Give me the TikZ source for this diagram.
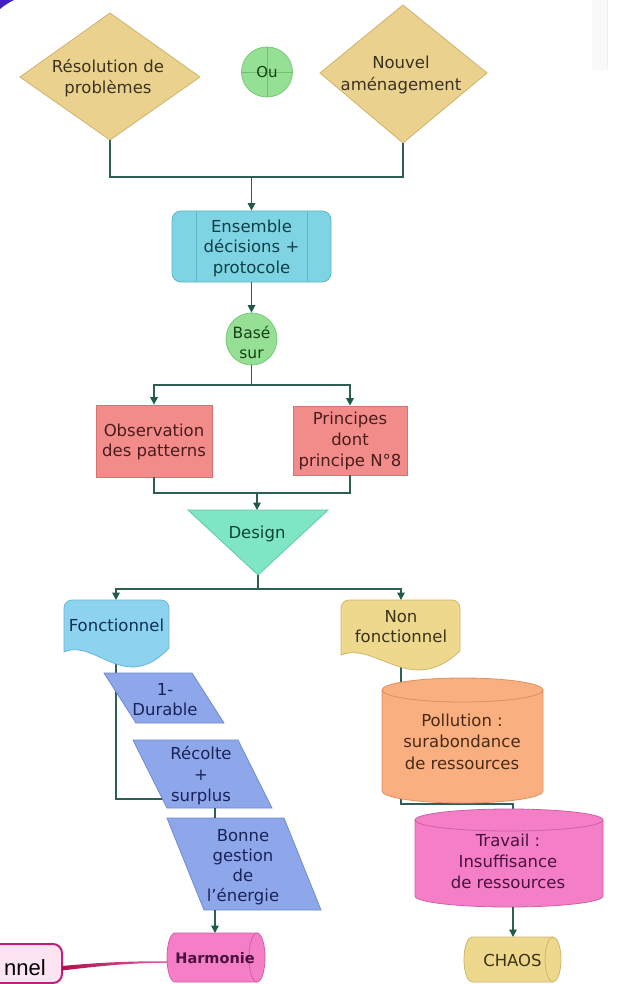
\documentclass[tikz,border=0pt]{standalone}
\usepackage{fontspec}
\setmainfont{DejaVu Sans}
\newfontfamily\nnelfont{Liberation Sans}
\usetikzlibrary{arrows.meta,shapes.geometric}

\definecolor{connC}{HTML}{2F5E54}
\definecolor{arrC}{HTML}{1F5A45}
\definecolor{diamF}{HTML}{EBD18E}
\definecolor{diamD}{HTML}{CFB36C}
\definecolor{diamT}{HTML}{3B3320}
\definecolor{greenF}{HTML}{95E095}
\definecolor{greenD}{HTML}{78C878}
\definecolor{greenX}{HTML}{6FC06F}
\definecolor{greenT}{HTML}{153F15}
\definecolor{cyanF}{HTML}{7FD4E3}
\definecolor{cyanD}{HTML}{5CB8C8}
\definecolor{cyanT}{HTML}{0E3E48}
\definecolor{redF}{HTML}{F28C8A}
\definecolor{redD}{HTML}{D87272}
\definecolor{redT}{HTML}{4A1C1C}
\definecolor{mintF}{HTML}{7EE5C5}
\definecolor{mintD}{HTML}{5ECAA7}
\definecolor{mintT}{HTML}{0F4536}
\definecolor{blueF}{HTML}{8DD2EE}
\definecolor{blueD}{HTML}{69B6D6}
\definecolor{blueT}{HTML}{0F2F55}
\definecolor{yelF}{HTML}{EDD88E}
\definecolor{yelD}{HTML}{CDB86C}
\definecolor{yelT}{HTML}{3B3315}
\definecolor{paraF}{HTML}{8EA7EA}
\definecolor{paraD}{HTML}{6F8AD2}
\definecolor{paraT}{HTML}{1A2358}
\definecolor{orF}{HTML}{F9AF7F}
\definecolor{orD}{HTML}{DE905E}
\definecolor{orT}{HTML}{4A2A15}
\definecolor{pinkF}{HTML}{F47FC6}
\definecolor{pinkD}{HTML}{D25EA6}
\definecolor{pinkT}{HTML}{4A1040}
\definecolor{magD}{HTML}{C21F78}
\definecolor{magF}{HTML}{FCE4F2}
\definecolor{magL}{HTML}{B0104E}
\definecolor{purC}{HTML}{4321C4}

% vertical cylinder: x0 x1 ytop ybot ry style
\newcommand{\vcylinder}[6]{%
  \pgfmathsetmacro\cylcx{(#1+#2)/2}%
  \pgfmathsetmacro\cylrx{(#2-#1)/2}%
  \pgfmathsetmacro\cylyu{#3+#5}%
  \pgfmathsetmacro\cylyl{#4-#5}%
  \pgfmathsetmacro\cylkx{0.5523*\cylrx}%
  \pgfmathsetmacro\cylky{0.5523*#5}%
  \draw[#6] (#1,\cylyu) -- (#1,\cylyl) .. controls (#1,\cylyl+\cylky) and (\cylcx-\cylkx,#4) .. (\cylcx,#4) .. controls (\cylcx+\cylkx,#4) and (#2,\cylyl+\cylky) .. (#2,\cylyl) -- (#2,\cylyu) .. controls (#2,\cylyu-\cylky) and (\cylcx+\cylkx,#3) .. (\cylcx,#3) .. controls (\cylcx-\cylkx,#3) and (#1,\cylyu-\cylky) .. (#1,\cylyu) -- cycle;
  \draw[#6, fill=none] (#1,\cylyu) .. controls (#1,\cylyu+\cylky) and (\cylcx-\cylkx,\cylyu+#5) .. (\cylcx,\cylyu+#5) .. controls (\cylcx+\cylkx,\cylyu+#5) and (#2,\cylyu+\cylky) .. (#2,\cylyu);
}
% horizontal cylinder: x0 x1 ytop ybot rx style
\newcommand{\hcylinder}[6]{%
  \pgfmathsetmacro\cylcy{(#3+#4)/2}%
  \pgfmathsetmacro\cylry{(#4-#3)/2}%
  \pgfmathsetmacro\cylxl{#1+#5}%
  \pgfmathsetmacro\cylxr{#2-#5}%
  \pgfmathsetmacro\cylkx{0.5523*#5}%
  \pgfmathsetmacro\cylky{0.5523*\cylry}%
  \draw[#6] (\cylxl,#3) -- (\cylxr,#3) .. controls (\cylxr+\cylkx,#3) and (#2,\cylcy-\cylky) .. (#2,\cylcy) .. controls (#2,\cylcy+\cylky) and (\cylxr+\cylkx,#4) .. (\cylxr,#4) -- (\cylxl,#4) .. controls (\cylxl-\cylkx,#4) and (#1,\cylcy+\cylky) .. (#1,\cylcy) .. controls (#1,\cylcy-\cylky) and (\cylxl-\cylkx,#3) .. (\cylxl,#3) -- cycle;
  \draw[#6, fill=none] (\cylxr,#3) .. controls (\cylxr-\cylkx,#3) and (\cylxr-#5,\cylcy-\cylky) .. (\cylxr-#5,\cylcy) .. controls (\cylxr-#5,\cylcy+\cylky) and (\cylxr-\cylkx,#4) .. (\cylxr,#4);
}
% document shape: x0 x1 ytop yb style
\newcommand{\docshape}[5]{%
  \pgfmathsetmacro\docw{#2-#1}%
  \draw[#5] (#1,#4) -- (#1,#3+8) .. controls (#1,#3+3.6) and (#1+3.6,#3) .. (#1+8,#3) -- (#2-8,#3) .. controls (#2-3.6,#3) and (#2,#3+3.6) .. (#2,#3+8) -- (#2,#4-4) .. controls (#1+0.58*\docw,#4+43) and (#1+0.3*\docw,#4-14) .. (#1,#4) -- cycle;
}

\begin{document}
\begin{tikzpicture}[x=1pt,y=-1pt,
  txt/.style={align=center, inner sep=0pt, font=\fontsize{16.5}{20.5}\selectfont},
  conn/.style={draw=connC, line width=1.5pt},
  arr/.style={conn, -{Triangle[length=7.5pt,width=7.5pt,color=arrC]}},
  diam/.style={fill=diamF, draw=diamD, line width=0.8pt},
  para/.style={fill=paraF, draw=paraD, line width=0.8pt}]
\useasboundingbox (0,0) rectangle (616,984);
\clip (0,0) rectangle (616,984);
\fill[white] (0,0) rectangle (616,984);

% edge remnants
\fill[purC] (0,0) -- (14,0) .. controls (9,2.5) and (4,5.5) .. (0,9) -- cycle;
\fill[black!2.5] (592,0) rectangle (607,70);
\draw[black!6, line width=0.8pt] (607,0) -- (607,70);

% ---------- top diamonds ----------
\draw[diam] (20,77) -- (110,13) -- (200,77) -- (110,140) -- cycle;
\node[txt, text=diamT] (resol) at (108,78) {Résolution de\\problèmes};
\coordinate (d1s) at (110,140);
\draw[diam] (320,73) -- (403,5) -- (487,73) -- (403,143) -- cycle;
\node[txt, text=diamT, font=\fontsize{16.5}{21.5}\selectfont] (nouv) at (401,75) {Nouvel\\aménagement};
\coordinate (d2s) at (403,143);

% Ou
\node[ellipse, draw=greenD, fill=greenF, line width=0.8pt, minimum width=51pt, minimum height=50pt, inner sep=0pt] (ou) at (267,72) {};
\draw[greenX, line width=0.8pt] (ou.north) -- (ou.south) (ou.west) -- (ou.east);
\node[txt, font=\fontsize{15}{18}\selectfont, text=greenT] (outxt) at (267,72) {Ou};

% Ensemble
\node[draw=cyanD, fill=cyanF, line width=0.8pt, rounded corners=9pt, minimum width=159pt, minimum height=71pt, inner sep=0pt] (ens) at (251.5,246.5) {};
\draw[cyanD, line width=0.8pt] (196,211) -- (196,282) (307,211) -- (307,282);
\node[txt, text=cyanT] (enstxt) at (251.5,248) {Ensemble\\décisions +\\protocole};

% Basé sur
\node[ellipse, draw=greenD, fill=greenF, line width=0.8pt, minimum width=51pt, minimum height=52pt, inner sep=0pt] (base) at (251.5,339) {};
\node[txt, font=\fontsize{15.5}{20}\selectfont, text=greenT] (basetxt) at (251.5,342) {Basé\\sur};

% Observation / Principes
\node[draw=redD, fill=redF, line width=0.8pt, minimum width=116pt, minimum height=72pt, inner sep=0pt] (obs) at (154,441) {};
\node[txt, font=\fontsize{16.5}{20}\selectfont, text=redT] (obstxt) at (154,442) {Observation\\des patterns};
\node[draw=redD, fill=redF, line width=0.8pt, minimum width=114pt, minimum height=69pt, inner sep=0pt] (pri) at (350,440.5) {};
\node[txt, font=\fontsize{16.5}{21}\selectfont, text=redT] (pritxt) at (350,441) {Principes\\dont\\principe N°8};

% Design
\draw[fill=mintF, draw=mintD, line width=0.8pt] (188,510) -- (328,510) -- (258,575) -- cycle;
\node[txt, text=mintT] (design) at (257,534) {Design};
\coordinate (dtop) at (257,510);
\coordinate (dbot) at (258,575);

% junctions
\coordinate (j1) at (251.5,177);
\coordinate (j2) at (251.5,385);
\coordinate (j3) at (257,493);
\coordinate (j4) at (258,589);

% hidden connectors (behind shapes)
\coordinate (fcb) at (116,660);
\coordinate (recw) at (170,799);
\coordinate (nfb) at (401,662);
\coordinate (j5) at (401,804);
\coordinate (j6) at (513,804);
\coordinate (tvt) at (513,815);
\draw[conn] (fcb) |- (recw);
\draw[conn] (nfb) -- (j5) -- (j6) -- (tvt);

% documents
\docshape{64}{169}{600}{652}{fill=blueF, draw=blueD, line width=0.8pt}
\node[txt, text=blueT] (fonc) at (116.5,625) {Fonctionnel};
\coordinate (fct) at (116,600);
\docshape{341}{460}{600}{655}{fill=yelF, draw=yelD, line width=0.8pt}
\node[txt, font=\fontsize{16.5}{20}\selectfont, text=yelT] (nonf) at (401,627) {Non\\fonctionnel};
\coordinate (nft) at (401,600);

% parallelograms
\draw[para] (104,673) -- (192,673) -- (224,723) -- (136,723) -- cycle;
\node[txt, font=\fontsize{16.5}{20}\selectfont, text=paraT] (dur) at (165,700) {1-\\Durable};
\draw[para] (133,740) -- (238,740) -- (272,808) -- (167,808) -- cycle;
\node[txt, font=\fontsize{16.5}{21}\selectfont, text=paraT] (rec) at (201,776) {Récolte\\+\\surplus};
\coordinate (recb) at (215,808);
\draw[para] (167,818) -- (284,818) -- (321,910) -- (204,910) -- cycle;
\node[txt, font=\fontsize{16.5}{20}\selectfont, text=paraT] (bon) at (243,867) {Bonne\\gestion\\de\\l'énergie};
\coordinate (bont) at (215,818);
\coordinate (bonb) at (215,910);

% cylinders
\vcylinder{382}{543}{678}{803}{12}{fill=orF, draw=orD, line width=0.8pt}
\node[txt, font=\fontsize{16.5}{21.5}\selectfont, text=orT] (poll) at (462,741.5) {Pollution :\\surabondance\\de ressources};
\vcylinder{415}{603}{809}{907}{11}{fill=pinkF, draw=pinkD, line width=0.8pt}
\node[txt, font=\fontsize{16.5}{21}\selectfont, text=pinkT] (trav) at (508,861) {Travail :\\Insuffisance\\de ressources};
\coordinate (tvb) at (513,907);

\hcylinder{167}{265}{933}{982}{8}{fill=pinkF, draw=pinkD, line width=0.8pt}
\node[txt, font=\bfseries\fontsize{14.5}{18}\selectfont, text=pinkT] (harm) at (215,958) {Harmonie};
\coordinate (harmn) at (215,933);
\coordinate (harmw) at (167,962);

\hcylinder{464}{561}{937}{982}{8}{fill=yelF, draw=yelD, line width=0.8pt}
\node[txt, text=yelT] (chaos) at (512.5,960) {CHAOS};
\coordinate (chaosn) at (513,937);

% visible connectors
\draw[conn] (d1s) |- (j1);
\draw[conn] (d2s) |- (j1);
\draw[arr] (j1) -- (ens.north);
\draw[arr] (ens.south) -- (base.north);
\draw[conn] (base.south) -- (j2);
\draw[arr] (j2) -| (obs.north);
\draw[arr] (j2) -| (pri.north);
\draw[conn] (obs.south) |- (j3);
\draw[conn] (pri.south) |- (j3);
\draw[arr] (j3) -- (dtop);
\draw[conn] (dbot) -- (j4);
\draw[arr] (j4) -| (fct);
\draw[arr] (j4) -| (nft);
\draw[conn] (recb) -- (bont);
\draw[arr] (bonb) -- (harmn);
\draw[arr] (tvb) -- (chaosn);

% bottom-left mind-map node
\draw[draw=magD, fill=magF, line width=2pt, rounded corners=9pt] (-30,944) rectangle (62,983);
\node[anchor=base east, inner sep=0pt, font=\nnelfont\fontsize{22}{26}\selectfont] (nnel) at (46,975) {nnel};
\coordinate (nnelE) at (62,968);
\shade[left color=magL, right color=pinkF!70!magL] (nnelE) ++(0,-2) .. controls (100,962.5) and (130,961) .. (167,961.4) -- (167,962.8) .. controls (130,962.8) and (100,966) .. (62,970.5) -- cycle;
\end{tikzpicture}
\end{document}
